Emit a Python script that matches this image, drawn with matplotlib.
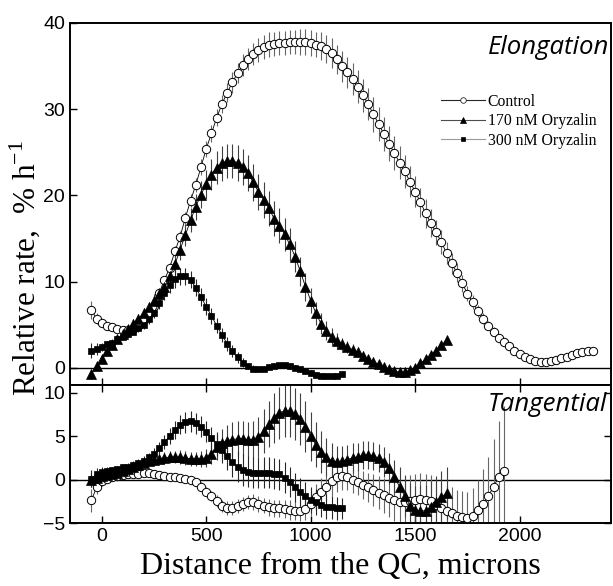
import numpy as np
import matplotlib
matplotlib.use('Agg')
import matplotlib.pyplot as plt
from matplotlib.lines import Line2D

plt.rcParams['font.family'] = 'Liberation Sans'
plt.rcParams['mathtext.fontset'] = 'custom'
plt.rcParams['mathtext.rm'] = 'Liberation Serif'

# sampling: every 25 microns starting at -50
x0, dx = -50, 25

# --- Elongation (top panel), % h-1 ---
ctrl_el = [6.7, 5.7, 5.2, 4.9, 4.7, 4.5, 4.4, 4.4, 4.5, 4.9, 5.5,
           6.2, 7.2, 8.7, 10.2, 11.6, 13.5, 15.2, 17.4, 19.4, 21.2, 23.3, 25.4,
           27.2, 29.0, 30.6, 31.9, 33.1, 34.2, 35.1, 35.8, 36.4, 36.9, 37.2, 37.5, 37.6, 37.7, 37.7, 37.8, 37.8, 37.8, 37.8, 37.7,
           37.5, 37.3, 37.0, 36.5, 35.8, 35.0, 34.3, 33.5, 32.6, 31.6, 30.6, 29.4, 28.3, 27.1, 26.0, 24.9, 23.8, 22.8, 21.6, 20.4,
           19.2, 17.9, 16.8, 15.7, 14.6, 13.3, 12.1, 11.0, 9.8, 8.6, 7.6, 6.6, 5.7, 4.9, 4.2, 3.5, 3.0, 2.5, 2.0, 1.6,
           1.3, 1.0, 0.8, 0.7, 0.7, 0.8, 0.9, 1.1, 1.3, 1.5, 1.7, 1.8, 1.9, 2.0]
ctrl_el_err = [1.0, 0.6, 0.4,
               0.3, 0.3, 0.3, 0.3, 0.3, 0.3, 0.3, 0.3, 0.4, 0.4,
               0.5, 0.5, 0.6, 0.6, 0.7, 0.7, 0.8, 0.8, 0.9, 0.9, 1.0, 1.0, 1.1, 1.1,
               1.2, 1.2, 1.3, 1.3, 1.3, 1.4, 1.4, 1.4, 1.4, 1.4, 1.4, 1.4, 1.4, 1.5, 1.5, 1.5,
               1.5, 1.6, 1.6, 1.7, 1.7, 1.8, 1.8, 1.8, 1.9, 1.9, 1.9, 2.0, 2.0, 2.0, 2.0, 2.0, 1.9, 1.9, 1.8, 1.8,
               1.7, 1.7, 1.6, 1.5, 1.4, 1.3, 1.2, 1.1, 1.0, 0.9, 0.8, 0.7, 0.6, 0.5, 0.5, 0.4, 0.4, 0.3, 0.3, 0.3,
               0.3, 0.3, 0.3, 0.3, 0.3, 0.3, 0.3, 0.3, 0.3, 0.3, 0.3, 0.3, 0.3, 0.3]

ory170_el = [-0.7, 0.2, 1.0, 1.9, 2.6, 3.3, 3.9, 4.5, 5.1, 5.7, 6.3,
             7.0, 7.8, 8.5, 9.4, 10.6, 12.0, 13.7, 15.4, 17.1, 18.7, 20.1, 21.3,
             22.4, 23.2, 23.7, 24.0, 24.0, 23.8, 23.3, 22.6, 21.5, 20.4, 19.5, 18.5, 17.3, 16.5, 15.5, 14.3, 12.9, 11.2, 9.4, 7.8,
             6.3, 5.1, 4.3, 3.6, 3.1, 2.7, 2.4, 2.1, 1.8, 1.4, 1.0, 0.7, 0.4, 0.1, -0.2, -0.4, -0.5, -0.5, -0.3, 0.0,
             0.5, 1.0, 1.5, 2.0, 2.6, 3.2]
ory170_el_err = [0.6, 0.5, 0.4, 0.4, 0.4, 0.4, 0.4, 0.5, 0.5, 0.5, 0.6,
                 0.6, 0.7, 0.8, 0.9, 1.0, 1.1, 1.2, 1.3, 1.4, 1.5, 1.6, 1.7,
                 1.8, 1.9, 2.0, 2.0, 2.0, 2.1, 2.1, 2.1, 2.1, 2.1, 2.1, 2.0, 2.0, 2.0, 1.9, 1.9, 1.8, 1.7, 1.6, 1.5,
                 1.3, 1.2, 1.1, 1.0, 0.9, 0.8, 0.7, 0.6, 0.6, 0.5, 0.5, 0.5, 0.5, 0.4, 0.4, 0.4, 0.4, 0.4, 0.4, 0.4,
                 0.4, 0.4, 0.4, 0.4, 0.4, 0.4]

ory300_el = [2.0, 2.2, 2.4, 2.7, 2.9, 3.3, 3.6, 3.9, 4.2, 4.6, 5.0,
             5.6, 6.4, 7.5, 8.7, 9.6, 10.3, 10.6, 10.6, 10.2, 9.3, 8.2, 7.1,
             6.0, 4.9, 3.8, 2.8, 1.9, 1.2, 0.6, 0.2, -0.1, -0.2, -0.1, 0.1,
             0.2, 0.3, 0.3, 0.2, 0.0, -0.2, -0.4, -0.6, -0.8, -0.9, -1.0, -1.0, -0.9, -0.7]
ory300_el_err = [0.9, 0.7, 0.5, 0.4, 0.4, 0.4, 0.4, 0.4, 0.4, 0.4, 0.5,
                 0.5, 0.6, 0.7, 0.8, 0.9, 1.0, 1.0, 1.0, 1.0, 1.0, 1.0, 1.0,
                 0.9, 0.9, 0.8, 0.8, 0.7, 0.6, 0.5, 0.4, 0.4, 0.3, 0.3, 0.3,
                 0.3, 0.3, 0.3, 0.3, 0.3, 0.3, 0.3, 0.3, 0.3, 0.3, 0.3, 0.3, 0.3, 0.3]

# --- Tangential (bottom panel) ---
ctrl_tg = [-2.4, -0.9, -0.2, 0.1, 0.3, 0.4, 0.5, 0.6, 0.7, 0.7, 0.8,
           0.8, 0.7, 0.5, 0.4, 0.3, 0.3, 0.2, 0.1, -0.1, -0.3, -0.8, -1.4,
           -1.9, -2.5, -3.0, -3.3, -3.3, -3.0, -2.8, -2.6, -2.6, -2.8, -3.0, -3.2, -3.3, -3.3, -3.4, -3.5, -3.6, -3.6, -3.4, -2.8,
           -2.0, -1.4, -0.8, -0.2, 0.3, 0.4, 0.3, 0.0, -0.3, -0.6, -0.9, -1.2, -1.5, -1.8, -2.1, -2.4, -2.6, -2.6, -2.5, -2.3,
           -2.2, -2.3, -2.5, -2.9, -3.3, -3.6, -3.9, -4.2, -4.3, -4.4, -4.2, -3.5, -2.8, -1.9, -0.8, 0.3, 1.0]
ctrl_tg_err = [1.3, 0.8, 0.5, 0.4, 0.3, 0.3, 0.3, 0.3, 0.3, 0.3, 0.3,
               0.3, 0.3, 0.3, 0.3, 0.3, 0.3, 0.3, 0.3, 0.4, 0.4, 0.5, 0.5,
               0.6, 0.7, 0.7, 0.8, 0.8, 0.8, 0.8, 0.8, 0.9, 0.9, 0.9, 1.0, 1.0, 1.0, 1.0, 1.1, 1.1, 1.2, 1.3, 1.4,
               1.5, 1.6, 1.7, 1.7, 1.7, 1.6, 1.5, 1.5, 1.5, 1.6, 1.7, 1.8, 1.9, 2.0, 2.2, 2.4, 2.6, 2.8, 3.0, 3.0,
               3.0, 3.0, 3.0, 3.0, 3.0, 3.0, 3.0, 3.0, 3.0, 3.0, 3.2, 3.5, 4.0, 4.5, 5.5, 6.5, 7.5]

ory170_tg = [0.0, 0.2, 0.4, 0.5, 0.7, 0.8, 1.0, 1.2, 1.4, 1.7, 1.9,
             2.1, 2.3, 2.4, 2.5, 2.6, 2.6, 2.6, 2.5, 2.4, 2.4, 2.4, 2.5,
             3.0, 3.7, 4.2, 4.5, 4.6, 4.7, 4.7, 4.6, 4.6, 4.9, 5.6, 6.4, 7.1, 7.7, 7.9, 7.9, 7.6, 7.0, 6.1, 5.0,
             4.0, 3.2, 2.6, 2.2, 2.0, 2.1, 2.3, 2.5, 2.6, 2.8, 2.8, 2.7, 2.5, 2.0, 1.3, 0.3, -0.8, -1.9, -3.0, -3.5,
             -3.6, -3.6, -3.2, -2.6, -2.0, -1.6]
ory170_tg_err = [0.8, 0.6, 0.5, 0.4, 0.4, 0.4, 0.4, 0.4, 0.4, 0.5, 0.5,
                 0.5, 0.6, 0.6, 0.7, 0.7, 0.7, 0.8, 0.8, 0.8, 0.8, 0.9, 1.0,
                 1.2, 1.4, 1.6, 1.8, 2.0, 2.0, 2.0, 2.0, 2.1, 2.3, 2.5, 2.7, 2.9, 3.0, 3.0, 3.0, 3.0, 3.0, 2.9, 2.8,
                 2.6, 2.4, 2.2, 2.0, 1.9, 1.8, 1.7, 1.7, 1.6, 1.6, 1.6, 1.6, 1.6, 1.7, 1.8, 2.0, 2.2, 2.4, 2.6, 2.8,
                 3.0, 3.0, 3.0, 3.0, 3.0, 3.0]

ory300_tg = [0.1, 0.6, 0.9, 1.0, 1.1, 1.2, 1.4, 1.5, 1.7, 1.9, 2.2,
             2.6, 3.0, 3.6, 4.3, 5.0, 5.7, 6.3, 6.6, 6.7, 6.5, 6.1, 5.5,
             4.8, 4.1, 3.4, 2.7, 2.0, 1.5, 1.1, 0.9, 0.8, 0.8, 0.8, 0.8,
             0.7, 0.6, 0.2, -0.3, -0.9, -1.4, -1.9, -2.3, -2.6, -2.9, -3.1, -3.2, -3.3, -3.3]
ory300_tg_err = [1.0, 0.7, 0.5, 0.4, 0.4, 0.4, 0.4, 0.4, 0.4, 0.5, 0.5,
                 0.5, 0.6, 0.7, 0.8, 0.9, 1.0, 1.1, 1.2, 1.2, 1.2, 1.2, 1.2,
                 1.3, 1.4, 1.5, 1.6, 1.7, 1.8, 1.8, 1.8, 1.8, 1.8, 1.8, 1.8,
                 1.8, 1.8, 1.8, 1.7, 1.7, 1.6, 1.6, 1.5, 1.5, 1.4, 1.4, 1.3, 1.3, 1.2]

labels = ['Control', '170 nM Oryzalin', '300 nM Oryzalin']
xticks = [0, 500, 1000, 1500, 2000]


def xs(vals):
    return np.arange(x0, x0 + dx * len(vals), dx)


# marker styles per series
styles = [dict(marker='o', ms=6, mfc='white', mec='black', mew=0.7, ecol='0.4'),
          dict(marker='^', ms=6.5, mfc='black', mec='black', mew=0.5, ecol='0.25'),
          dict(marker='s', ms=4.5, mfc='black', mec='black', mew=0.5, ecol='0.15')]


def draw(ax, series):
    for (y, e), st in zip(series, styles):
        x = xs(y)
        ax.errorbar(x, y, yerr=e, fmt='none', ecolor=st['ecol'], elinewidth=0.8, capsize=0, zorder=2)
        ax.plot(x, y, color='black', lw=0.6, marker=st['marker'], ms=st['ms'],
                mfc=st['mfc'], mec=st['mec'], mew=st['mew'], zorder=3)
    ax.axhline(0, color='black', lw=1.0, zorder=1)
    ax.set_xlim(-152, 2437)
    ax.set_xticks(xticks)
    for s in ax.spines.values():
        s.set_linewidth(1.4)
    ax.tick_params(direction='in', length=5, width=1.0, labelsize=14)


fig = plt.figure(figsize=(6.13, 5.86), dpi=100)
ax1 = fig.add_axes([0.1142, 0.343, 0.8825, 0.6178])
ax2 = fig.add_axes([0.1142, 0.1075, 0.8825, 0.2355])

draw(ax1, [(ctrl_el, ctrl_el_err), (ory170_el, ory170_el_err), (ory300_el, ory300_el_err)])
draw(ax2, [(ctrl_tg, ctrl_tg_err), (ory170_tg, ory170_tg_err), (ory300_tg, ory300_tg_err)])

ax1.set_ylim(-2.0, 40)
ax1.set_yticks([0, 10, 20, 30, 40])
ax1.tick_params(axis='x', labelbottom=False, bottom=True, top=False)
ax2.set_ylim(-5, 10.9)
ax2.set_yticks([-5, 0, 5, 10])
ax2.tick_params(axis='x', top=True, bottom=True)
ax2.tick_params(axis='y', right=True)

ax1.text(0.997, 0.968, 'Elongation', transform=ax1.transAxes, ha='right', va='top',
         fontsize=18.5, family='Open Sans', style='italic')
ax2.text(0.993, 0.95, 'Tangential', transform=ax2.transAxes, ha='right', va='top',
         fontsize=18.5, family='Open Sans', style='italic')

# legend with small markers
handles = []
for st, c in zip(styles, ['0.15', '0.3', '0.6']):
    handles.append(Line2D([], [], color=c, lw=0.8, marker=st['marker'], ms=4 if st['marker'] != 's' else 3.5,
                          mfc=st['mfc'], mec='black', mew=0.5))
fig.legend(handles, labels, loc='upper left', bbox_to_anchor=(0.719, 0.84), frameon=False,
           prop={'family': 'Liberation Serif', 'size': 11.3}, handlelength=2.8, handletextpad=0.2,
           labelspacing=0.22, borderpad=0, borderaxespad=0)

fig.text(25 / 613, 1 - 268 / 586, r'Relative rate,  % h$^{-1}$', rotation=90, ha='center', va='center',
         family='Liberation Serif', fontsize=22.5)
fig.text(0.556, 1 - 566 / 586, 'Distance from the QC, microns', ha='center', va='center',
         family='Liberation Serif', fontsize=23)

fig.savefig('out.png', dpi=100)
